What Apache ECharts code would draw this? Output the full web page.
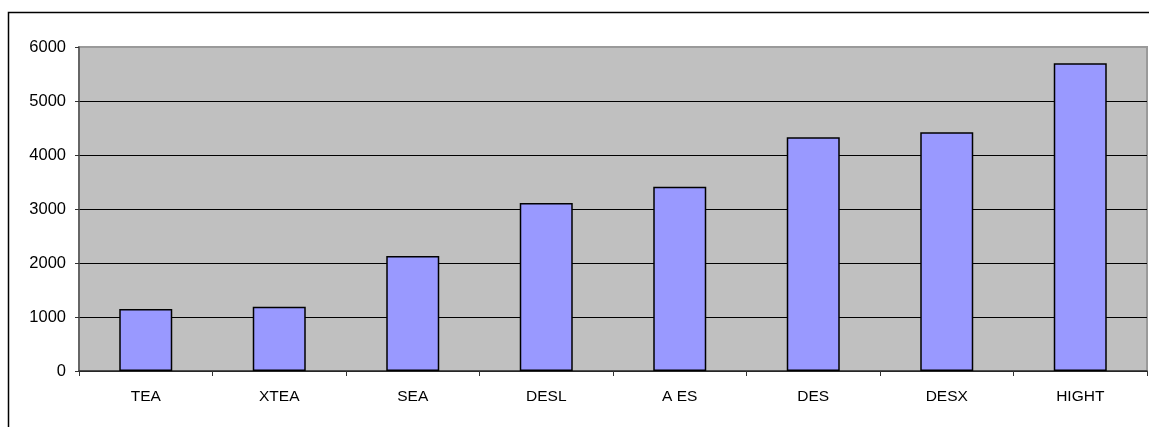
<!DOCTYPE html>
<html>
<head>
<meta charset="utf-8">
<script src="https://cdn.jsdelivr.net/npm/echarts@6/dist/echarts.min.js"></script>
<style>
  html, body { margin: 0; padding: 0; background: #ffffff; }
  #chart { width: 1149px; height: 427px; }
</style>
</head>
<body>
<div id="chart"></div>
<script>
// Cipher names along the x axis
const categories = ['TEA', 'XTEA', 'SEA', 'DESL', 'A ES', 'DES', 'DESX', 'HIGHT'];
// One value per cipher
const values = [1150, 1190, 2130, 3110, 3410, 4330, 4420, 5700];
// Value axis range
const yMin = 0;
const yMax = 6000;
const yStep = 1000;

const chart = echarts.init(document.getElementById('chart'), null, { renderer: 'canvas' });

const font = 'Liberation Sans, Arial, sans-serif';

chart.setOption({
  animation: false,
  backgroundColor: '#ffffff',
  graphic: [{
    type: 'rect',
    shape: { x: 8.5, y: 12.5, width: 1160, height: 440 },
    style: { fill: 'none', stroke: '#000000', lineWidth: 1.5 },
    z: 100
  }],
  grid: {
    left: 79, top: 47, right: 2, bottom: 56,
    show: true,
    backgroundColor: '#C0C0C0',
    borderColor: '#9a9a9a',
    borderWidth: 2
  },
  xAxis: {
    type: 'category',
    data: categories,
    boundaryGap: true,
    axisLine: { show: true, lineStyle: { color: '#333333', width: 1.5 } },
    axisTick: { show: true, alignWithLabel: false, length: 5, lineStyle: { color: '#333333' } },
    axisLabel: { color: '#000000', fontFamily: font, fontSize: 15.5, margin: 18 },
    splitLine: { show: false }
  },
  yAxis: {
    type: 'value',
    min: yMin, max: yMax, interval: yStep,
    axisLine: { show: true, lineStyle: { color: '#555555', width: 1.5 } },
    axisTick: { show: true, length: 4, lineStyle: { color: '#333333' } },
    axisLabel: {
      color: '#000000', fontFamily: font, fontSize: 16.5, margin: 13,
      formatter: (v) => String(v)
    },
    splitLine: { show: true, showMaxLine: false, lineStyle: { color: '#000000', width: 1 } }
  },
  series: [{
    type: 'bar',
    data: values,
    barWidth: 53,
    itemStyle: { color: '#9999FF', borderColor: '#000000', borderWidth: 1.5 }
  }]
});
</script>
</body>
</html>
